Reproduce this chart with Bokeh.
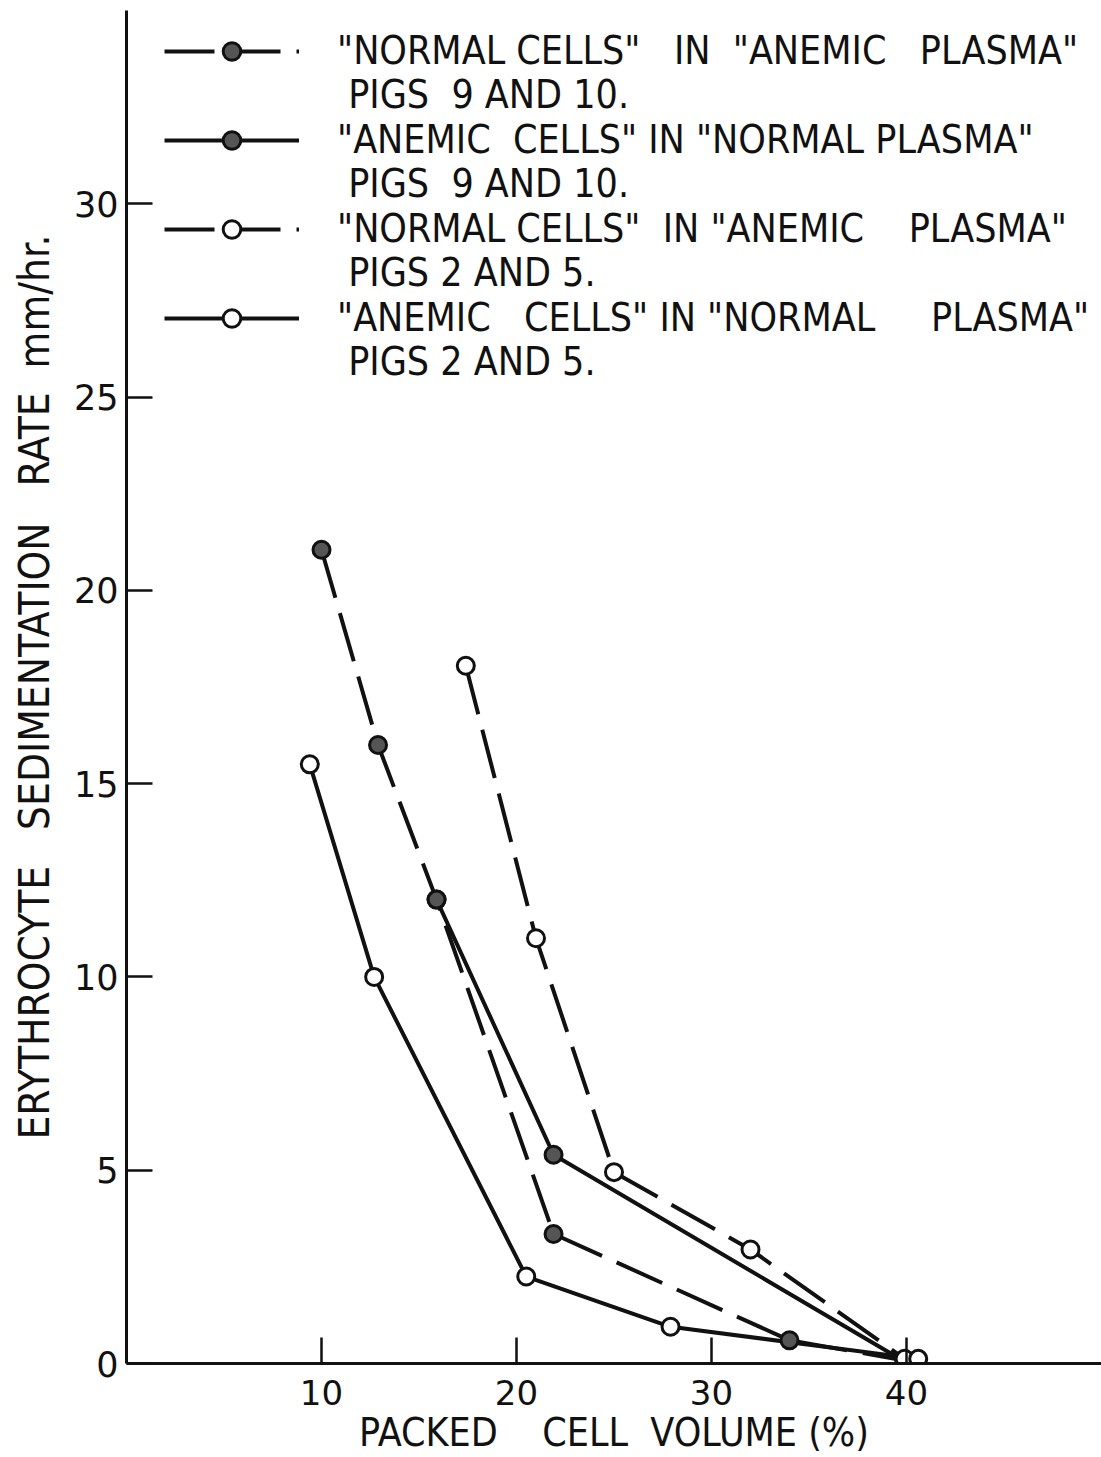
from bokeh.plotting import figure
from bokeh.models import Range1d, FixedTicker, Legend, LegendItem
from bokeh.embed import file_html
from bokeh.resources import INLINE

NB = "\u00a0"

# ---- data ----
series_line1 = [
    '"NORMAL CELLS"' + NB * 2 + ' IN' + NB + ' "ANEMIC' + NB * 2 + ' PLASMA"',
    '"ANEMIC' + NB + ' CELLS" IN "NORMAL PLASMA"',
    '"NORMAL CELLS"' + NB + ' IN "ANEMIC' + NB * 3 + ' PLASMA"',
    '"ANEMIC' + NB * 2 + ' CELLS" IN "NORMAL' + NB * 4 + ' PLASMA"',
]
series_line2 = [
    NB + 'PIGS' + NB + ' 9 AND 10.',
    NB + 'PIGS' + NB + ' 9 AND 10.',
    NB + 'PIGS 2 AND 5.',
    NB + 'PIGS 2 AND 5.',
]
# filled markers, dashed line
a_pcv = [10.0, 12.9, 15.9, 21.9, 34.0, 39.9]
a_esr = [21.05, 16.0, 12.0, 3.35, 0.6, 0.08]
# filled markers, solid line
b_pcv = [15.9, 21.9, 39.9]
b_esr = [12.0, 5.4, 0.05]
# open markers, dashed line
c_pcv = [17.4, 21.0, 25.0, 32.0, 39.9]
c_esr = [18.05, 11.0, 4.95, 2.95, 0.12]
# open markers, solid line
d_pcv = [9.4, 12.7, 20.5, 27.9, 40.6]
d_esr = [15.5, 10.0, 2.25, 0.95, 0.12]

x_ticks = [10, 20, 30, 40]
y_ticks = [0, 5, 10, 15, 20, 25, 30]

FONT = "'DejaVu Sans Condensed', 'DejaVu Sans', sans-serif"
NUMFONT = "'DejaVu Sans', sans-serif"
INK = "#111111"

p = figure(width=1101, height=1457,
           x_range=Range1d(0, 50), y_range=Range1d(0, 35),
           output_backend="svg", toolbar_location=None,
           min_border_left=126, min_border_right=0,
           min_border_top=10, min_border_bottom=94)
p.outline_line_color = None
p.grid.visible = False
p.background_fill_color = "white"
p.border_fill_color = "white"

p.xaxis.ticker = FixedTicker(ticks=x_ticks)
p.yaxis.ticker = FixedTicker(ticks=y_ticks)
for ax in (p.xaxis, p.yaxis):
    ax.axis_line_width = 3
    ax.axis_line_color = INK
    ax.major_tick_line_width = 2.5
    ax.major_tick_line_color = INK
    ax.major_tick_in = 26
    ax.major_tick_out = 0
    ax.minor_tick_line_color = None
    ax.major_label_text_font = NUMFONT
    ax.major_label_text_color = INK
    ax.axis_label_text_font = FONT
    ax.axis_label_text_font_style = "normal"
    ax.axis_label_text_color = INK

p.xaxis.major_label_text_font_size = "34px"
p.yaxis.major_label_text_font_size = "35px"
p.xaxis.major_label_standoff = 16
p.yaxis.major_label_standoff = 8
p.xaxis.axis_label = "PACKED" + NB * 3 + " CELL" + NB + " VOLUME (%)"
p.yaxis.axis_label = ("ERYTHROCYTE" + NB * 2 + " SEDIMENTATION" + NB * 2
                      + " RATE" + NB + " mm/hr.")
p.xaxis.axis_label_text_font_size = "39px"
p.yaxis.axis_label_text_font_size = "42px"
p.xaxis.axis_label_standoff = 2
p.yaxis.axis_label_standoff = 12

DASH = "50 16"
LW = 4
MS = 17

la = p.line(a_pcv, a_esr, line_color=INK, line_width=LW, line_dash=DASH)
lb = p.line(b_pcv, b_esr, line_color=INK, line_width=LW)
lc = p.line(c_pcv, c_esr, line_color=INK, line_width=LW, line_dash=DASH)
ld = p.line(d_pcv, d_esr, line_color=INK, line_width=LW)

sa = p.scatter(a_pcv, a_esr, size=MS, fill_color="#555555", line_color=INK, line_width=3)
sb = p.scatter(b_pcv, b_esr, size=MS, fill_color="#555555", line_color=INK, line_width=3)
sc = p.scatter(c_pcv, c_esr, size=MS, fill_color="white", line_color=INK, line_width=3)
sd = p.scatter(d_pcv, d_esr, size=MS, fill_color="white", line_color=INK, line_width=3)


def style_legend(lg):
    lg.background_fill_alpha = 0
    lg.border_line_color = None
    lg.glyph_width = 135
    lg.glyph_height = 44
    lg.label_standoff = 38
    lg.label_text_font = FONT
    lg.label_text_font_size = "39px"
    lg.label_text_color = INK
    lg.label_height = 44
    lg.spacing = 44
    lg.padding = 0
    lg.margin = 0


# first text line of each entry, with its line-and-marker sample
legend1 = Legend(items=[
    LegendItem(label=series_line1[i], renderers=[r_line, r_mark])
    for i, (r_line, r_mark) in enumerate([(la, sa), (lb, sb), (lc, sc), (ld, sd)])
], location=(38, 1023))
style_legend(legend1)

# second text line of each entry (no sample drawn)
blank = p.line(x=[], y=[], line_alpha=0)
legend2 = Legend(items=[
    LegendItem(label=series_line2[i], renderers=[blank]) for i in range(4)
], location=(38, 979))
style_legend(legend2)

p.add_layout(legend1, "center")
p.add_layout(legend2, "center")

open("out.html", "w").write(file_html(p, INLINE))
